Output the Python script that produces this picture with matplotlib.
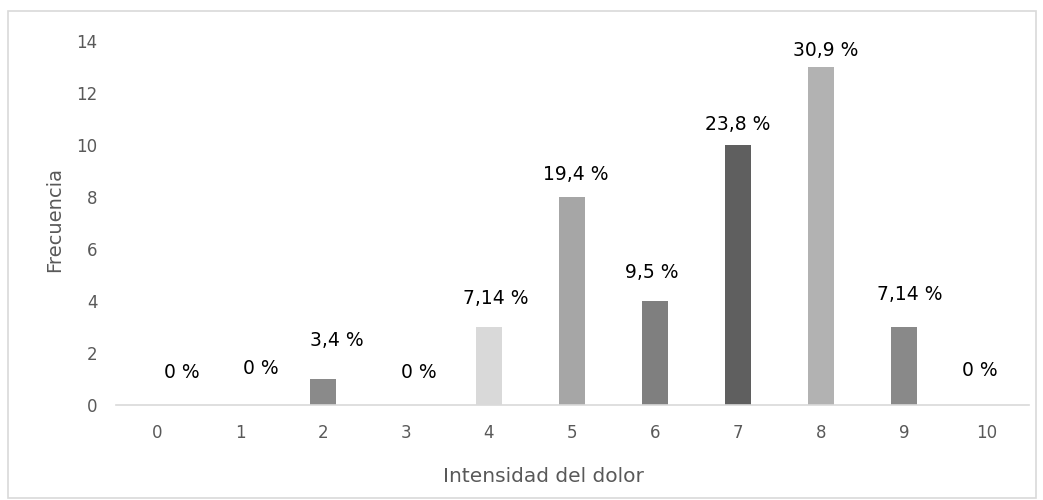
import matplotlib
matplotlib.use("Agg")
import matplotlib.pyplot as plt
from matplotlib.patches import Rectangle

categories = ["0", "1", "2", "3", "4", "5", "6", "7", "8", "9", "10"]
frecuencia = [0, 0, 1, 0, 3, 8, 4, 10, 13, 3, 0]
porcentajes = ["0 %", "0 %", "3,4 %", "0 %", "7,14 %", "19,4 %", "9,5 %", "23,8 %", "30,9 %", "7,14 %", "0 %"]
yticks = [0, 2, 4, 6, 8, 10, 12, 14]

bar_colors = ["#8a8a8a", "#8a8a8a", "#8a8a8a", "#8a8a8a", "#d9d9d9", "#a6a6a6",
              "#7f7f7f", "#5f5f5f", "#b2b2b2", "#898989", "#8a8a8a"]
# label placement offsets (pixels) relative to bar top centre
label_dx_px = [24.5, 20.5, 14, 13, 7, 4, -3, -0.5, 4.5, 5.5, -7.5]
label_dy_px = [33, 36, 39, 33, 29, 23, 29, 21, 17, 33, 35]

W, H = 1043, 500
fig = plt.figure(figsize=(W / 100, H / 100), dpi=100)
ax = fig.add_axes([115.5 / W, 1 - 405 / H, 913 / W, 364 / H])

x = list(range(len(categories)))
ax.bar(x, frecuencia, width=0.313, color=bar_colors, zorder=2)

for xi, v, lab, dx, dy in zip(x, frecuencia, porcentajes, label_dx_px, label_dy_px):
    ax.annotate(lab, (xi, v), xytext=(dx * 0.72, dy * 0.72), textcoords="offset points",
                ha="center", va="center", fontsize=13.5, color="#000000")

ax.set_xlim(-0.5, len(categories) - 0.5)
ax.set_ylim(0, 14)
ax.set_xticks(x)
ax.set_xticklabels(categories)
ax.set_yticks(yticks)
ax.tick_params(axis="both", length=0, labelsize=12, labelcolor="#595959")
ax.tick_params(axis="x", pad=14)
ax.tick_params(axis="y", pad=13)
for s in ["top", "right", "left"]:
    ax.spines[s].set_visible(False)
ax.spines["bottom"].set_color("#d9d9d9")
ax.spines["bottom"].set_linewidth(1.2)

ax.set_xlabel("Intensidad del dolor", fontsize=14.5, color="#595959", va="center")
ax.xaxis.set_label_coords((543.5 - 115.5) / 913, (405 - 476) / 364)
ax.set_ylabel("Frecuencia", fontsize=14, color="#595959", va="center")
ax.yaxis.set_label_coords((55 - 115.5) / 913, (405 - 219) / 364)

fig.patches.append(Rectangle((8 / W, 1 - 498 / H), 1028 / W, 487 / H,
                             transform=fig.transFigure, fill=False,
                             edgecolor="#d9d9d9", linewidth=1.2))

fig.savefig("out.png", dpi=100)
